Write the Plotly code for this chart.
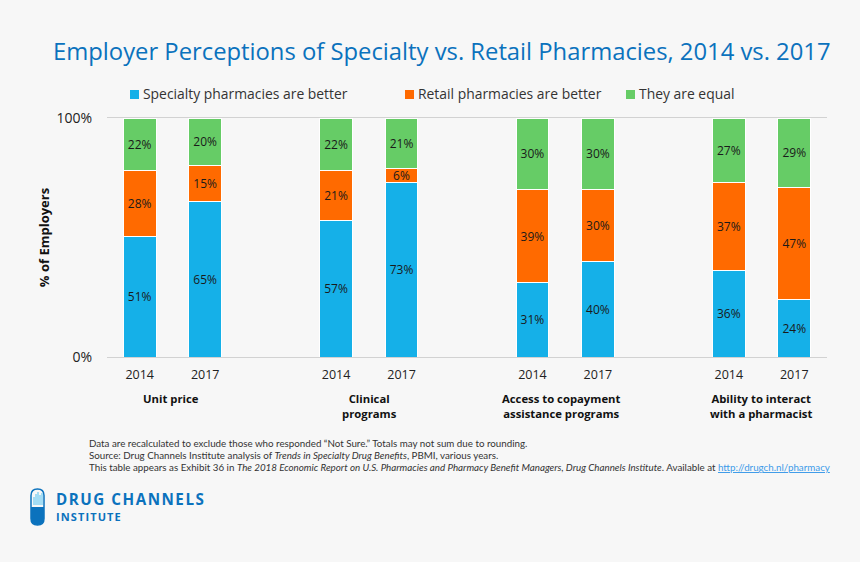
import plotly.graph_objects as go

# Valeurs
slots = ["up14", "up17", "gap1", "cp14", "cp17", "gap2", "ac14", "ac17", "gap3", "ai14", "ai17"]
bar_slots = ["up14", "up17", "cp14", "cp17", "ac14", "ac17", "ai14", "ai17"]
years = ["2014", "2017"] * 4
series_names = ["Specialty pharmacies are better", "Retail pharmacies are better", "They are equal"]
specialty = [51, 65, 57, 73, 31, 40, 36, 24]
retail = [28, 15, 21, 6, 39, 30, 37, 47]
equal = [22, 20, 22, 21, 30, 30, 27, 29]
series_colors = ["#15b0e8", "#ff6a00", "#66cc66"]
group_labels = ["Unit price", "Clinical<br>programs", "Access to copayment<br>assistance programs", "Ability to interact<br>with a pharmacist"]
group_centers = [171, 369, 561, 761]
legend_x = [134, 409, 630]

footnotes = [
    "Data are recalculated to exclude those who responded “Not Sure.” Totals may not sum due to rounding.",
    "Source: Drug Channels Institute analysis of <i>Trends in Specialty Drug Benefits</i>, PBMI, various years.",
    "This table appears as Exhibit 36 in <i>The 2018 Economic Report on U.S. Pharmacies and Pharmacy Benefit Managers, Drug Channels Institute</i>. Available at "
    "<span style='color:#3d9be9'><u>http://drugch.nl/pharmacy</u></span>",
]

# Cadre du graphique en pixels
LEFT, RIGHT, TOP, BOTTOM = 107, 827, 118, 357
BG = "#f7f7f7"
BLUE = "#0b72bd"
FONT = "Open Sans"


def px(x):
    return (x - LEFT) / (RIGHT - LEFT)


def py(y):
    return (BOTTOM - y) / (BOTTOM - TOP)


def note(x, y, text, size=12, color="#222222", anchor="left", yanchor="middle", bold=False, family=FONT):
    fig.add_annotation(
        x=px(x), y=py(y), xref="paper", yref="paper", text=text, showarrow=False,
        xanchor=anchor, yanchor=yanchor, align="center" if anchor == "center" else "left",
        borderpad=0, borderwidth=0,
        font=dict(size=size, color=color, family=family, weight="bold" if bold else "normal"),
    )


def box(x0, y0, x1, y1, color):
    fig.add_shape(type="rect", xref="paper", yref="paper", x0=px(x0), x1=px(x1), y0=py(y0), y1=py(y1),
                  fillcolor=color, line_width=0, layer="above")


def pill_path(x0, x1, y0, y1, round_top, round_bottom):
    # forme arrondie du logo, en coordonnées papier
    r = (x1 - x0) / 2
    p = f"M{px(x0)},{py(y1 - (r if round_bottom else 0))} L{px(x0)},{py(y0 + (r if round_top else 0))} "
    if round_top:
        p += f"Q{px(x0)},{py(y0)} {px(x0 + r)},{py(y0)} Q{px(x1)},{py(y0)} {px(x1)},{py(y0 + r)} "
    else:
        p += f"L{px(x1)},{py(y0)} "
    p += f"L{px(x1)},{py(y1 - (r if round_bottom else 0))} "
    if round_bottom:
        p += f"Q{px(x1)},{py(y1)} {px(x0 + r)},{py(y1)} Q{px(x0)},{py(y1)} {px(x0)},{py(y1 - r)} "
    return p + "Z"


fig = go.Figure()

for name, values, color in zip(series_names, [specialty, retail, equal], series_colors):
    fig.add_trace(go.Bar(
        x=bar_slots, y=values, name=name, marker=dict(color=color, line=dict(color="#ffffff", width=1)),
        text=[f"{v}%" for v in values], textposition="inside", insidetextanchor="middle", textangle=0,
        constraintext="none", textfont=dict(size=12, color="#1a1a1a", family=FONT), cliponaxis=False,
    ))

fig.update_layout(
    width=860, height=562, barmode="stack", barnorm="percent", bargap=0.5, showlegend=False,
    paper_bgcolor=BG, plot_bgcolor=BG, font=dict(family=FONT, color="#222222"),
    margin=dict(l=LEFT, r=860 - RIGHT, t=TOP, b=562 - BOTTOM, pad=0),
)
fig.update_xaxes(
    categoryorder="array", categoryarray=slots, range=[-0.5, 10.5], tickmode="array",
    tickvals=bar_slots, ticktext=years, tickfont=dict(size=12.5, color="#222222"),
    showgrid=False, showline=True, mirror=True, linecolor="#d2d2d2", linewidth=1,
    ticks="outside", ticklen=6, tickcolor=BG,
)
fig.update_yaxes(
    range=[0, 100], tickmode="array", tickvals=[0, 100], ticktext=["0%", "100%"],
    tickfont=dict(size=14, color="#222222"), showgrid=True, gridcolor="#d2d2d2", zeroline=False,
    ticks="outside", ticklen=11, tickcolor=BG,
    title=dict(text="<b>% of Employers</b>", font=dict(size=13, color="#111111"), standoff=4),
)

# Titre
note(53, 51, "Employer Perceptions of Specialty vs. Retail Pharmacies, 2014 vs. 2017", size=23.8, color=BLUE)

# Légende
for x, name, color in zip(legend_x, series_names, series_colors):
    box(x - 4, 90, x + 5, 99, color)
    note(x + 9, 94, name, size=13.9, color="#333333")

# Libellés des groupes
for x, label in zip(group_centers, group_labels):
    note(x, 406 if "<br>" in label else 398, label, size=11.3, color="#111111", anchor="center", bold=True)

# Notes
for y, line in zip([443, 455, 467], footnotes):
    note(89, y, line, size=9.78, color="#333333", family="Lato")

# Logo
fig.add_shape(type="path", xref="paper", yref="paper", path=pill_path(31, 44, 489, 525, True, True),
              line=dict(color=BLUE, width=1.5), fillcolor=BG, layer="above")
fig.add_shape(type="path", xref="paper", yref="paper", path=pill_path(31, 44, 507, 525, False, True),
              line_width=0, fillcolor=BLUE, layer="above")
for x, top in zip([34, 36, 38, 40, 42], [497, 494, 492, 495, 493]):
    box(x - 0.7, top, x + 0.7, 505, "#7fd0f2")
note(56, 499, "<b>" + "\u200a".join("DRUG CHANNELS") + "</b>", size=15.2, color=BLUE)
note(56, 516, "<b>" + "\u200a".join("INSTITUTE") + "</b>", size=11, color=BLUE)

fig.write_html("out.html", config={"displayModeBar": False}, post_script="document.body.style.margin='0';")
